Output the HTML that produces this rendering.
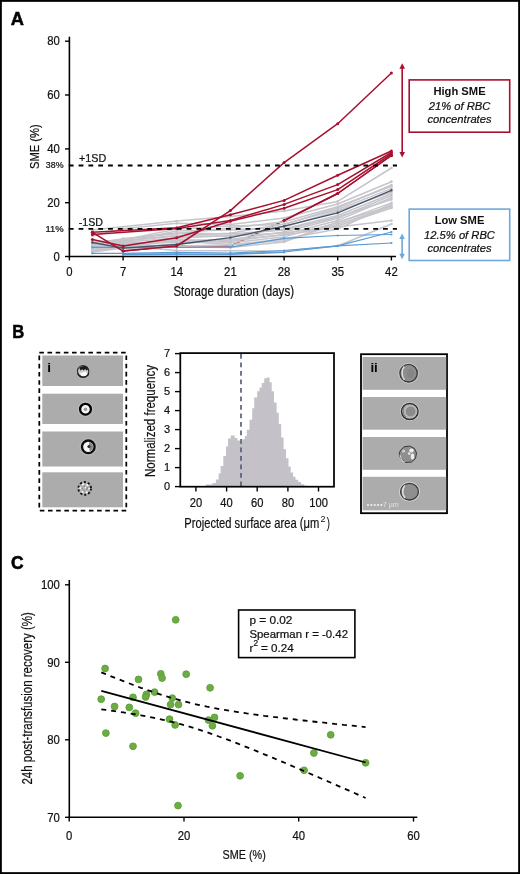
<!DOCTYPE html>
<html><head><meta charset="utf-8"><style>
html,body{margin:0;padding:0;background:#fff;}
body{width:520px;height:874px;overflow:hidden;font-family:"Liberation Sans", sans-serif;}
</style></head><body>
<svg width="520" height="874" viewBox="0 0 520 874" style="display:block;will-change:transform" font-family='"Liberation Sans", sans-serif'>
<rect x="0" y="0" width="520" height="874" fill="#fff"/>
<g opacity="0.999">
<text x="10.7" y="25.3" font-size="18.3" text-anchor="start" font-weight="bold" font-style="normal" fill="#000" stroke="#000" stroke-width="0.5">A</text>
<text x="12.2" y="337.8" font-size="18.3" text-anchor="start" font-weight="bold" font-style="normal" fill="#000" textLength="12.0" lengthAdjust="spacingAndGlyphs" stroke="#000" stroke-width="0.5">B</text>
<text x="11.0" y="569.1" font-size="18.3" text-anchor="start" font-weight="bold" font-style="normal" fill="#000" textLength="12.6" lengthAdjust="spacingAndGlyphs" stroke="#000" stroke-width="0.6">C</text>
<polyline points="123.1,251.1 176.7,246.0 230.4,246.0 284.1,220.5 337.7,193.5 391.4,155.5" fill="none" stroke="#a8102f" stroke-width="1.5" stroke-linejoin="round" opacity="1.0"/><circle cx="123.1" cy="251.1" r="1.5" fill="#a8102f" opacity="1.0"/><circle cx="176.7" cy="246.0" r="1.5" fill="#a8102f" opacity="1.0"/><circle cx="230.4" cy="246.0" r="1.5" fill="#a8102f" opacity="1.0"/><circle cx="284.1" cy="220.5" r="1.5" fill="#a8102f" opacity="1.0"/><circle cx="337.7" cy="193.5" r="1.5" fill="#a8102f" opacity="1.0"/><circle cx="391.4" cy="155.5" r="1.5" fill="#a8102f" opacity="1.0"/>
<polyline points="92.4,230.0 176.7,221.0 230.4,216.4 284.1,211.1 337.7,201.4 391.4,168.0" fill="none" stroke="#c6c5cb" stroke-width="1.5" stroke-linejoin="round" opacity="1.0"/><circle cx="92.4" cy="230.0" r="1.35" fill="#c6c5cb" opacity="1.0"/><circle cx="176.7" cy="221.0" r="1.35" fill="#c6c5cb" opacity="1.0"/><circle cx="230.4" cy="216.4" r="1.35" fill="#c6c5cb" opacity="1.0"/><circle cx="284.1" cy="211.1" r="1.35" fill="#c6c5cb" opacity="1.0"/><circle cx="337.7" cy="201.4" r="1.35" fill="#c6c5cb" opacity="1.0"/><circle cx="391.4" cy="168.0" r="1.35" fill="#c6c5cb" opacity="1.0"/>
<polyline points="92.4,236.0 123.1,228.7 176.7,223.3 230.4,224.4 284.1,218.0 337.7,204.0 391.4,181.7" fill="none" stroke="#c6c5cb" stroke-width="1.5" stroke-linejoin="round" opacity="1.0"/><circle cx="92.4" cy="236.0" r="1.35" fill="#c6c5cb" opacity="1.0"/><circle cx="123.1" cy="228.7" r="1.35" fill="#c6c5cb" opacity="1.0"/><circle cx="176.7" cy="223.3" r="1.35" fill="#c6c5cb" opacity="1.0"/><circle cx="230.4" cy="224.4" r="1.35" fill="#c6c5cb" opacity="1.0"/><circle cx="284.1" cy="218.0" r="1.35" fill="#c6c5cb" opacity="1.0"/><circle cx="337.7" cy="204.0" r="1.35" fill="#c6c5cb" opacity="1.0"/><circle cx="391.4" cy="181.7" r="1.35" fill="#c6c5cb" opacity="1.0"/>
<polyline points="92.4,245.0 123.1,238.7 176.7,233.7 230.4,228.0 284.1,221.8 337.7,206.8 391.4,186.3" fill="none" stroke="#c6c5cb" stroke-width="1.5" stroke-linejoin="round" opacity="1.0"/><circle cx="92.4" cy="245.0" r="1.35" fill="#c6c5cb" opacity="1.0"/><circle cx="123.1" cy="238.7" r="1.35" fill="#c6c5cb" opacity="1.0"/><circle cx="176.7" cy="233.7" r="1.35" fill="#c6c5cb" opacity="1.0"/><circle cx="230.4" cy="228.0" r="1.35" fill="#c6c5cb" opacity="1.0"/><circle cx="284.1" cy="221.8" r="1.35" fill="#c6c5cb" opacity="1.0"/><circle cx="337.7" cy="206.8" r="1.35" fill="#c6c5cb" opacity="1.0"/><circle cx="391.4" cy="186.3" r="1.35" fill="#c6c5cb" opacity="1.0"/>
<polyline points="92.4,246.0 123.1,240.6 176.7,235.6 230.4,233.2 284.1,224.0 337.7,209.6 391.4,188.6" fill="none" stroke="#c6c5cb" stroke-width="1.5" stroke-linejoin="round" opacity="1.0"/><circle cx="92.4" cy="246.0" r="1.35" fill="#c6c5cb" opacity="1.0"/><circle cx="123.1" cy="240.6" r="1.35" fill="#c6c5cb" opacity="1.0"/><circle cx="176.7" cy="235.6" r="1.35" fill="#c6c5cb" opacity="1.0"/><circle cx="230.4" cy="233.2" r="1.35" fill="#c6c5cb" opacity="1.0"/><circle cx="284.1" cy="224.0" r="1.35" fill="#c6c5cb" opacity="1.0"/><circle cx="337.7" cy="209.6" r="1.35" fill="#c6c5cb" opacity="1.0"/><circle cx="391.4" cy="188.6" r="1.35" fill="#c6c5cb" opacity="1.0"/>
<polyline points="92.4,247.0 123.1,242.3 176.7,238.0 230.4,235.6 284.1,229.0 337.7,215.5 391.4,193.8" fill="none" stroke="#c6c5cb" stroke-width="1.5" stroke-linejoin="round" opacity="1.0"/><circle cx="92.4" cy="247.0" r="1.35" fill="#c6c5cb" opacity="1.0"/><circle cx="123.1" cy="242.3" r="1.35" fill="#c6c5cb" opacity="1.0"/><circle cx="176.7" cy="238.0" r="1.35" fill="#c6c5cb" opacity="1.0"/><circle cx="230.4" cy="235.6" r="1.35" fill="#c6c5cb" opacity="1.0"/><circle cx="284.1" cy="229.0" r="1.35" fill="#c6c5cb" opacity="1.0"/><circle cx="337.7" cy="215.5" r="1.35" fill="#c6c5cb" opacity="1.0"/><circle cx="391.4" cy="193.8" r="1.35" fill="#c6c5cb" opacity="1.0"/>
<polyline points="92.4,249.6 123.1,244.0 176.7,240.4 230.4,239.6 284.1,231.9 337.7,218.3 391.4,195.5" fill="none" stroke="#c6c5cb" stroke-width="1.5" stroke-linejoin="round" opacity="1.0"/><circle cx="92.4" cy="249.6" r="1.35" fill="#c6c5cb" opacity="1.0"/><circle cx="123.1" cy="244.0" r="1.35" fill="#c6c5cb" opacity="1.0"/><circle cx="176.7" cy="240.4" r="1.35" fill="#c6c5cb" opacity="1.0"/><circle cx="230.4" cy="239.6" r="1.35" fill="#c6c5cb" opacity="1.0"/><circle cx="284.1" cy="231.9" r="1.35" fill="#c6c5cb" opacity="1.0"/><circle cx="337.7" cy="218.3" r="1.35" fill="#c6c5cb" opacity="1.0"/><circle cx="391.4" cy="195.5" r="1.35" fill="#c6c5cb" opacity="1.0"/>
<polyline points="92.4,248.0 123.1,243.0 176.7,242.6 230.4,241.2 284.1,234.4 337.7,220.4 391.4,197.8" fill="none" stroke="#c6c5cb" stroke-width="1.5" stroke-linejoin="round" opacity="1.0"/><circle cx="92.4" cy="248.0" r="1.35" fill="#c6c5cb" opacity="1.0"/><circle cx="123.1" cy="243.0" r="1.35" fill="#c6c5cb" opacity="1.0"/><circle cx="176.7" cy="242.6" r="1.35" fill="#c6c5cb" opacity="1.0"/><circle cx="230.4" cy="241.2" r="1.35" fill="#c6c5cb" opacity="1.0"/><circle cx="284.1" cy="234.4" r="1.35" fill="#c6c5cb" opacity="1.0"/><circle cx="337.7" cy="220.4" r="1.35" fill="#c6c5cb" opacity="1.0"/><circle cx="391.4" cy="197.8" r="1.35" fill="#c6c5cb" opacity="1.0"/>
<polyline points="92.4,251.4 123.1,246.0 176.7,239.0 230.4,242.8 284.1,236.9 337.7,222.6 391.4,202.9" fill="none" stroke="#c6c5cb" stroke-width="1.5" stroke-linejoin="round" opacity="1.0"/><circle cx="92.4" cy="251.4" r="1.35" fill="#c6c5cb" opacity="1.0"/><circle cx="123.1" cy="246.0" r="1.35" fill="#c6c5cb" opacity="1.0"/><circle cx="176.7" cy="239.0" r="1.35" fill="#c6c5cb" opacity="1.0"/><circle cx="230.4" cy="242.8" r="1.35" fill="#c6c5cb" opacity="1.0"/><circle cx="284.1" cy="236.9" r="1.35" fill="#c6c5cb" opacity="1.0"/><circle cx="337.7" cy="222.6" r="1.35" fill="#c6c5cb" opacity="1.0"/><circle cx="391.4" cy="202.9" r="1.35" fill="#c6c5cb" opacity="1.0"/>
<polyline points="92.4,250.0 123.1,247.0 176.7,241.0 230.4,244.4 284.1,240.7 337.7,224.2 391.4,206.9" fill="none" stroke="#c6c5cb" stroke-width="1.5" stroke-linejoin="round" opacity="1.0"/><circle cx="92.4" cy="250.0" r="1.35" fill="#c6c5cb" opacity="1.0"/><circle cx="123.1" cy="247.0" r="1.35" fill="#c6c5cb" opacity="1.0"/><circle cx="176.7" cy="241.0" r="1.35" fill="#c6c5cb" opacity="1.0"/><circle cx="230.4" cy="244.4" r="1.35" fill="#c6c5cb" opacity="1.0"/><circle cx="284.1" cy="240.7" r="1.35" fill="#c6c5cb" opacity="1.0"/><circle cx="337.7" cy="224.2" r="1.35" fill="#c6c5cb" opacity="1.0"/><circle cx="391.4" cy="206.9" r="1.35" fill="#c6c5cb" opacity="1.0"/>
<polyline points="92.4,244.0 123.1,241.0 176.7,236.0 230.4,236.0 284.1,233.0 337.7,226.0 391.4,208.0" fill="none" stroke="#c6c5cb" stroke-width="1.5" stroke-linejoin="round" opacity="1.0"/><circle cx="92.4" cy="244.0" r="1.35" fill="#c6c5cb" opacity="1.0"/><circle cx="123.1" cy="241.0" r="1.35" fill="#c6c5cb" opacity="1.0"/><circle cx="176.7" cy="236.0" r="1.35" fill="#c6c5cb" opacity="1.0"/><circle cx="230.4" cy="236.0" r="1.35" fill="#c6c5cb" opacity="1.0"/><circle cx="284.1" cy="233.0" r="1.35" fill="#c6c5cb" opacity="1.0"/><circle cx="337.7" cy="226.0" r="1.35" fill="#c6c5cb" opacity="1.0"/><circle cx="391.4" cy="208.0" r="1.35" fill="#c6c5cb" opacity="1.0"/>
<polyline points="92.4,252.0 123.1,248.0 176.7,244.0 230.4,240.0 284.1,235.0 337.7,227.0 391.4,220.6" fill="none" stroke="#c6c5cb" stroke-width="1.5" stroke-linejoin="round" opacity="1.0"/><circle cx="92.4" cy="252.0" r="1.35" fill="#c6c5cb" opacity="1.0"/><circle cx="123.1" cy="248.0" r="1.35" fill="#c6c5cb" opacity="1.0"/><circle cx="176.7" cy="244.0" r="1.35" fill="#c6c5cb" opacity="1.0"/><circle cx="230.4" cy="240.0" r="1.35" fill="#c6c5cb" opacity="1.0"/><circle cx="284.1" cy="235.0" r="1.35" fill="#c6c5cb" opacity="1.0"/><circle cx="337.7" cy="227.0" r="1.35" fill="#c6c5cb" opacity="1.0"/><circle cx="391.4" cy="220.6" r="1.35" fill="#c6c5cb" opacity="1.0"/>
<polyline points="92.4,250.0 123.1,246.0 176.7,250.4 230.4,250.8 284.1,251.0 337.7,246.0 391.4,224.0" fill="none" stroke="#c6c5cb" stroke-width="1.5" stroke-linejoin="round" opacity="1.0"/><circle cx="92.4" cy="250.0" r="1.35" fill="#c6c5cb" opacity="1.0"/><circle cx="123.1" cy="246.0" r="1.35" fill="#c6c5cb" opacity="1.0"/><circle cx="176.7" cy="250.4" r="1.35" fill="#c6c5cb" opacity="1.0"/><circle cx="230.4" cy="250.8" r="1.35" fill="#c6c5cb" opacity="1.0"/><circle cx="284.1" cy="251.0" r="1.35" fill="#c6c5cb" opacity="1.0"/><circle cx="337.7" cy="246.0" r="1.35" fill="#c6c5cb" opacity="1.0"/><circle cx="391.4" cy="224.0" r="1.35" fill="#c6c5cb" opacity="1.0"/>
<polyline points="92.4,248.0 123.1,242.0 176.7,231.0 230.4,230.0 284.1,227.0 337.7,211.0 391.4,192.0" fill="none" stroke="#c6c5cb" stroke-width="1.5" stroke-linejoin="round" opacity="1.0"/><circle cx="92.4" cy="248.0" r="1.35" fill="#c6c5cb" opacity="1.0"/><circle cx="123.1" cy="242.0" r="1.35" fill="#c6c5cb" opacity="1.0"/><circle cx="176.7" cy="231.0" r="1.35" fill="#c6c5cb" opacity="1.0"/><circle cx="230.4" cy="230.0" r="1.35" fill="#c6c5cb" opacity="1.0"/><circle cx="284.1" cy="227.0" r="1.35" fill="#c6c5cb" opacity="1.0"/><circle cx="337.7" cy="211.0" r="1.35" fill="#c6c5cb" opacity="1.0"/><circle cx="391.4" cy="192.0" r="1.35" fill="#c6c5cb" opacity="1.0"/>
<polyline points="92.4,242.0 123.1,240.0 176.7,229.0 230.4,226.0 284.1,224.5 337.7,208.0 391.4,185.0" fill="none" stroke="#c6c5cb" stroke-width="1.5" stroke-linejoin="round" opacity="1.0"/><circle cx="92.4" cy="242.0" r="1.35" fill="#c6c5cb" opacity="1.0"/><circle cx="123.1" cy="240.0" r="1.35" fill="#c6c5cb" opacity="1.0"/><circle cx="176.7" cy="229.0" r="1.35" fill="#c6c5cb" opacity="1.0"/><circle cx="230.4" cy="226.0" r="1.35" fill="#c6c5cb" opacity="1.0"/><circle cx="284.1" cy="224.5" r="1.35" fill="#c6c5cb" opacity="1.0"/><circle cx="337.7" cy="208.0" r="1.35" fill="#c6c5cb" opacity="1.0"/><circle cx="391.4" cy="185.0" r="1.35" fill="#c6c5cb" opacity="1.0"/>
<polyline points="123.1,245.0 176.7,246.0 230.4,245.0 284.1,239.0 337.7,229.0 391.4,204.0" fill="none" stroke="#c6c5cb" stroke-width="1.5" stroke-linejoin="round" opacity="1.0"/><circle cx="123.1" cy="245.0" r="1.35" fill="#c6c5cb" opacity="1.0"/><circle cx="176.7" cy="246.0" r="1.35" fill="#c6c5cb" opacity="1.0"/><circle cx="230.4" cy="245.0" r="1.35" fill="#c6c5cb" opacity="1.0"/><circle cx="284.1" cy="239.0" r="1.35" fill="#c6c5cb" opacity="1.0"/><circle cx="337.7" cy="229.0" r="1.35" fill="#c6c5cb" opacity="1.0"/><circle cx="391.4" cy="204.0" r="1.35" fill="#c6c5cb" opacity="1.0"/>
<polyline points="92.4,243.0 123.1,239.0 176.7,233.0 230.4,234.0 284.1,230.0 337.7,217.0 391.4,199.5" fill="none" stroke="#c6c5cb" stroke-width="1.5" stroke-linejoin="round" opacity="1.0"/><circle cx="92.4" cy="243.0" r="1.35" fill="#c6c5cb" opacity="1.0"/><circle cx="123.1" cy="239.0" r="1.35" fill="#c6c5cb" opacity="1.0"/><circle cx="176.7" cy="233.0" r="1.35" fill="#c6c5cb" opacity="1.0"/><circle cx="230.4" cy="234.0" r="1.35" fill="#c6c5cb" opacity="1.0"/><circle cx="284.1" cy="230.0" r="1.35" fill="#c6c5cb" opacity="1.0"/><circle cx="337.7" cy="217.0" r="1.35" fill="#c6c5cb" opacity="1.0"/><circle cx="391.4" cy="199.5" r="1.35" fill="#c6c5cb" opacity="1.0"/>
<polyline points="123.1,249.0 176.7,247.0 230.4,247.5 284.1,242.0 337.7,222.0 391.4,206.0" fill="none" stroke="#c6c5cb" stroke-width="1.5" stroke-linejoin="round" opacity="1.0"/><circle cx="123.1" cy="249.0" r="1.35" fill="#c6c5cb" opacity="1.0"/><circle cx="176.7" cy="247.0" r="1.35" fill="#c6c5cb" opacity="1.0"/><circle cx="230.4" cy="247.5" r="1.35" fill="#c6c5cb" opacity="1.0"/><circle cx="284.1" cy="242.0" r="1.35" fill="#c6c5cb" opacity="1.0"/><circle cx="337.7" cy="222.0" r="1.35" fill="#c6c5cb" opacity="1.0"/><circle cx="391.4" cy="206.0" r="1.35" fill="#c6c5cb" opacity="1.0"/>
<polyline points="92.4,247.3 123.1,247.3 176.7,247.5 230.4,247.2 284.1,238.3 337.7,235.5 391.4,234.5" fill="none" stroke="#5b9bd5" stroke-width="1.2" stroke-linejoin="round" opacity="1.0"/><circle cx="92.4" cy="247.3" r="1.1" fill="#5b9bd5" opacity="1.0"/><circle cx="123.1" cy="247.3" r="1.1" fill="#5b9bd5" opacity="1.0"/><circle cx="176.7" cy="247.5" r="1.1" fill="#5b9bd5" opacity="1.0"/><circle cx="230.4" cy="247.2" r="1.1" fill="#5b9bd5" opacity="1.0"/><circle cx="284.1" cy="238.3" r="1.1" fill="#5b9bd5" opacity="1.0"/><circle cx="337.7" cy="235.5" r="1.1" fill="#5b9bd5" opacity="1.0"/><circle cx="391.4" cy="234.5" r="1.1" fill="#5b9bd5" opacity="1.0"/>
<polyline points="92.4,253.4 123.1,253.4 176.7,252.3 230.4,253.2 284.1,250.5 337.7,245.8 391.4,243.0" fill="none" stroke="#5b9bd5" stroke-width="1.2" stroke-linejoin="round" opacity="1.0"/><circle cx="92.4" cy="253.4" r="1.1" fill="#5b9bd5" opacity="1.0"/><circle cx="123.1" cy="253.4" r="1.1" fill="#5b9bd5" opacity="1.0"/><circle cx="176.7" cy="252.3" r="1.1" fill="#5b9bd5" opacity="1.0"/><circle cx="230.4" cy="253.2" r="1.1" fill="#5b9bd5" opacity="1.0"/><circle cx="284.1" cy="250.5" r="1.1" fill="#5b9bd5" opacity="1.0"/><circle cx="337.7" cy="245.8" r="1.1" fill="#5b9bd5" opacity="1.0"/><circle cx="391.4" cy="243.0" r="1.1" fill="#5b9bd5" opacity="1.0"/>
<polyline points="123.1,254.7 176.7,254.5 230.4,254.0 284.1,252.0 337.7,245.8 391.4,232.0" fill="none" stroke="#5b9bd5" stroke-width="1.2" stroke-linejoin="round" opacity="1.0"/><circle cx="123.1" cy="254.7" r="1.1" fill="#5b9bd5" opacity="1.0"/><circle cx="176.7" cy="254.5" r="1.1" fill="#5b9bd5" opacity="1.0"/><circle cx="230.4" cy="254.0" r="1.1" fill="#5b9bd5" opacity="1.0"/><circle cx="284.1" cy="252.0" r="1.1" fill="#5b9bd5" opacity="1.0"/><circle cx="337.7" cy="245.8" r="1.1" fill="#5b9bd5" opacity="1.0"/><circle cx="391.4" cy="232.0" r="1.1" fill="#5b9bd5" opacity="1.0"/>
<polyline points="123.1,254.2 176.7,253.8 230.4,254.5 284.1,252.5" fill="none" stroke="#5b9bd5" stroke-width="1.2" stroke-linejoin="round" opacity="1.0"/><circle cx="123.1" cy="254.2" r="1.1" fill="#5b9bd5" opacity="1.0"/><circle cx="176.7" cy="253.8" r="1.1" fill="#5b9bd5" opacity="1.0"/><circle cx="230.4" cy="254.5" r="1.1" fill="#5b9bd5" opacity="1.0"/><circle cx="284.1" cy="252.5" r="1.1" fill="#5b9bd5" opacity="1.0"/>
<polyline points="92.4,242.5 123.1,248.2 176.7,244.5 230.4,237.6 284.1,226.2 337.7,212.8 391.4,190.3" fill="none" stroke="#44546a" stroke-width="1.3" stroke-linejoin="round" opacity="1.0"/><circle cx="92.4" cy="242.5" r="1.2" fill="#44546a" opacity="1.0"/><circle cx="123.1" cy="248.2" r="1.2" fill="#44546a" opacity="1.0"/><circle cx="176.7" cy="244.5" r="1.2" fill="#44546a" opacity="1.0"/><circle cx="230.4" cy="237.6" r="1.2" fill="#44546a" opacity="1.0"/><circle cx="284.1" cy="226.2" r="1.2" fill="#44546a" opacity="1.0"/><circle cx="337.7" cy="212.8" r="1.2" fill="#44546a" opacity="1.0"/><circle cx="391.4" cy="190.3" r="1.2" fill="#44546a" opacity="1.0"/>
<polyline points="92.4,232.3 123.1,251.1 176.7,246.0 230.4,210.6 284.1,162.6 337.7,123.7 391.4,73.0" fill="none" stroke="#a8102f" stroke-width="1.5" stroke-linejoin="round" opacity="1.0"/><circle cx="92.4" cy="232.3" r="1.5" fill="#a8102f" opacity="1.0"/><circle cx="123.1" cy="251.1" r="1.5" fill="#a8102f" opacity="1.0"/><circle cx="176.7" cy="246.0" r="1.5" fill="#a8102f" opacity="1.0"/><circle cx="230.4" cy="210.6" r="1.5" fill="#a8102f" opacity="1.0"/><circle cx="284.1" cy="162.6" r="1.5" fill="#a8102f" opacity="1.0"/><circle cx="337.7" cy="123.7" r="1.5" fill="#a8102f" opacity="1.0"/><circle cx="391.4" cy="73.0" r="1.5" fill="#a8102f" opacity="1.0"/>
<polyline points="284.1,220.5 337.7,193.5 391.4,155.5" fill="none" stroke="#a8102f" stroke-width="1.5" stroke-linejoin="round" opacity="1.0"/><circle cx="284.1" cy="220.5" r="1.5" fill="#a8102f" opacity="1.0"/><circle cx="337.7" cy="193.5" r="1.5" fill="#a8102f" opacity="1.0"/><circle cx="391.4" cy="155.5" r="1.5" fill="#a8102f" opacity="1.0"/>
<polyline points="92.4,239.6 123.1,245.9 176.7,237.8 230.4,221.2 284.1,208.2 337.7,189.6 391.4,154.0" fill="none" stroke="#a8102f" stroke-width="1.5" stroke-linejoin="round" opacity="1.0"/><circle cx="92.4" cy="239.6" r="1.5" fill="#a8102f" opacity="1.0"/><circle cx="123.1" cy="245.9" r="1.5" fill="#a8102f" opacity="1.0"/><circle cx="176.7" cy="237.8" r="1.5" fill="#a8102f" opacity="1.0"/><circle cx="230.4" cy="221.2" r="1.5" fill="#a8102f" opacity="1.0"/><circle cx="284.1" cy="208.2" r="1.5" fill="#a8102f" opacity="1.0"/><circle cx="337.7" cy="189.6" r="1.5" fill="#a8102f" opacity="1.0"/><circle cx="391.4" cy="154.0" r="1.5" fill="#a8102f" opacity="1.0"/>
<polyline points="92.4,232.3 176.7,227.8 230.4,214.7 284.1,200.4 337.7,175.3 391.4,151.0" fill="none" stroke="#a8102f" stroke-width="1.5" stroke-linejoin="round" opacity="1.0"/><circle cx="92.4" cy="232.3" r="1.5" fill="#a8102f" opacity="1.0"/><circle cx="176.7" cy="227.8" r="1.5" fill="#a8102f" opacity="1.0"/><circle cx="230.4" cy="214.7" r="1.5" fill="#a8102f" opacity="1.0"/><circle cx="284.1" cy="200.4" r="1.5" fill="#a8102f" opacity="1.0"/><circle cx="337.7" cy="175.3" r="1.5" fill="#a8102f" opacity="1.0"/><circle cx="391.4" cy="151.0" r="1.5" fill="#a8102f" opacity="1.0"/>
<polyline points="92.4,234.6 176.7,228.5 230.4,220.5 284.1,204.4 337.7,184.6 391.4,152.5" fill="none" stroke="#a8102f" stroke-width="1.5" stroke-linejoin="round" opacity="1.0"/><circle cx="92.4" cy="234.6" r="1.5" fill="#a8102f" opacity="1.0"/><circle cx="176.7" cy="228.5" r="1.5" fill="#a8102f" opacity="1.0"/><circle cx="230.4" cy="220.5" r="1.5" fill="#a8102f" opacity="1.0"/><circle cx="284.1" cy="204.4" r="1.5" fill="#a8102f" opacity="1.0"/><circle cx="337.7" cy="184.6" r="1.5" fill="#a8102f" opacity="1.0"/><circle cx="391.4" cy="152.5" r="1.5" fill="#a8102f" opacity="1.0"/>
<line x1="68.8" y1="165.5" x2="397" y2="165.5" stroke="#000" stroke-width="1.9" stroke-dasharray="4.8 5.02"/>
<line x1="68.8" y1="228.9" x2="397" y2="228.9" stroke="#000" stroke-width="1.9" stroke-dasharray="4.8 5.02"/>
<line x1="69.4" y1="36.7" x2="69.4" y2="257.3" stroke="#000" stroke-width="1.6"/>
<line x1="68.6" y1="256.5" x2="396" y2="256.5" stroke="#000" stroke-width="1.6"/>
<line x1="65" y1="256.5" x2="69.4" y2="256.5" stroke="#000" stroke-width="1.4"/>
<text x="59.8" y="260.7" font-size="12" text-anchor="end" font-weight="normal" font-style="normal" fill="#111" stroke="#111" stroke-width="0.22" textLength="6.3" lengthAdjust="spacingAndGlyphs" >0</text>
<line x1="65" y1="202.7" x2="69.4" y2="202.7" stroke="#000" stroke-width="1.4"/>
<text x="59.8" y="206.88" font-size="12" text-anchor="end" font-weight="normal" font-style="normal" fill="#111" stroke="#111" stroke-width="0.22" textLength="12.6" lengthAdjust="spacingAndGlyphs" >20</text>
<line x1="65" y1="148.9" x2="69.4" y2="148.9" stroke="#000" stroke-width="1.4"/>
<text x="59.8" y="153.06" font-size="12" text-anchor="end" font-weight="normal" font-style="normal" fill="#111" stroke="#111" stroke-width="0.22" textLength="12.6" lengthAdjust="spacingAndGlyphs" >40</text>
<line x1="65" y1="95.0" x2="69.4" y2="95.0" stroke="#000" stroke-width="1.4"/>
<text x="59.8" y="99.24000000000002" font-size="12" text-anchor="end" font-weight="normal" font-style="normal" fill="#111" stroke="#111" stroke-width="0.22" textLength="12.6" lengthAdjust="spacingAndGlyphs" >60</text>
<line x1="65" y1="41.2" x2="69.4" y2="41.2" stroke="#000" stroke-width="1.4"/>
<text x="59.8" y="45.42000000000003" font-size="12" text-anchor="end" font-weight="normal" font-style="normal" fill="#111" stroke="#111" stroke-width="0.22" textLength="12.6" lengthAdjust="spacingAndGlyphs" >80</text>
<line x1="69.4" y1="256.5" x2="69.4" y2="260.5" stroke="#000" stroke-width="1.4"/>
<text x="69.4" y="276.2" font-size="12" text-anchor="middle" font-weight="normal" font-style="normal" fill="#111" stroke="#111" stroke-width="0.22" textLength="6.3" lengthAdjust="spacingAndGlyphs" >0</text>
<line x1="123.1" y1="256.5" x2="123.1" y2="260.5" stroke="#000" stroke-width="1.4"/>
<text x="123.069" y="276.2" font-size="12" text-anchor="middle" font-weight="normal" font-style="normal" fill="#111" stroke="#111" stroke-width="0.22" textLength="6.3" lengthAdjust="spacingAndGlyphs" >7</text>
<line x1="176.7" y1="256.5" x2="176.7" y2="260.5" stroke="#000" stroke-width="1.4"/>
<text x="176.738" y="276.2" font-size="12" text-anchor="middle" font-weight="normal" font-style="normal" fill="#111" stroke="#111" stroke-width="0.22" textLength="12.6" lengthAdjust="spacingAndGlyphs" >14</text>
<line x1="230.4" y1="256.5" x2="230.4" y2="260.5" stroke="#000" stroke-width="1.4"/>
<text x="230.407" y="276.2" font-size="12" text-anchor="middle" font-weight="normal" font-style="normal" fill="#111" stroke="#111" stroke-width="0.22" textLength="12.6" lengthAdjust="spacingAndGlyphs" >21</text>
<line x1="284.1" y1="256.5" x2="284.1" y2="260.5" stroke="#000" stroke-width="1.4"/>
<text x="284.076" y="276.2" font-size="12" text-anchor="middle" font-weight="normal" font-style="normal" fill="#111" stroke="#111" stroke-width="0.22" textLength="12.6" lengthAdjust="spacingAndGlyphs" >28</text>
<line x1="337.7" y1="256.5" x2="337.7" y2="260.5" stroke="#000" stroke-width="1.4"/>
<text x="337.745" y="276.2" font-size="12" text-anchor="middle" font-weight="normal" font-style="normal" fill="#111" stroke="#111" stroke-width="0.22" textLength="12.6" lengthAdjust="spacingAndGlyphs" >35</text>
<line x1="391.4" y1="256.5" x2="391.4" y2="260.5" stroke="#000" stroke-width="1.4"/>
<text x="391.414" y="276.2" font-size="12" text-anchor="middle" font-weight="normal" font-style="normal" fill="#111" stroke="#111" stroke-width="0.22" textLength="12.6" lengthAdjust="spacingAndGlyphs" >42</text>
<text x="63.5" y="168.4" font-size="8.9" text-anchor="end" font-weight="normal" font-style="normal" fill="#111" stroke="#111" stroke-width="0.22" textLength="17.7" lengthAdjust="spacingAndGlyphs" >38%</text>
<text x="63.6" y="232.2" font-size="8.9" text-anchor="end" font-weight="normal" font-style="normal" fill="#111" stroke="#111" stroke-width="0.22" textLength="18.2" lengthAdjust="spacingAndGlyphs" >11%</text>
<text x="79" y="161.9" font-size="11.5" text-anchor="start" font-weight="normal" font-style="normal" fill="#111" stroke="#111" stroke-width="0.22" textLength="27.3" lengthAdjust="spacingAndGlyphs" >+1SD</text>
<text x="78.8" y="225.6" font-size="11.5" text-anchor="start" font-weight="normal" font-style="normal" fill="#111" stroke="#111" stroke-width="0.22" textLength="24.2" lengthAdjust="spacingAndGlyphs" >-1SD</text>
<text transform="translate(39,169) rotate(-90)" font-size="11.9" fill="#111" stroke="#111" stroke-width="0.2" textLength="44.7" lengthAdjust="spacingAndGlyphs">SME (%)</text>
<text x="173.4" y="295.9" font-size="14.4" text-anchor="start" font-weight="normal" font-style="normal" fill="#111" stroke="#111" stroke-width="0.22" textLength="120.6" lengthAdjust="spacingAndGlyphs" >Storage duration (days)</text>
<line x1="402.2" y1="67.2" x2="402.2" y2="153.5" stroke="#a8102f" stroke-width="1.6"/><path d="M402.2,63.2 L399.4,68.7 L405.0,68.7 Z" fill="#a8102f"/><path d="M402.2,157.5 L399.4,152.0 L405.0,152.0 Z" fill="#a8102f"/>
<line x1="402.1" y1="237.6" x2="402.1" y2="255.3" stroke="#6ea8dc" stroke-width="1.6"/><path d="M402.1,233.6 L399.3,239.1 L404.90000000000003,239.1 Z" fill="#6ea8dc"/><path d="M402.1,259.3 L399.3,253.8 L404.90000000000003,253.8 Z" fill="#6ea8dc"/>
<rect x="409.2" y="79.9" width="100.5" height="52.3" fill="#fff" stroke="#a8102f" stroke-width="1.6"/>
<text x="459.5" y="95.4" font-size="11.2" text-anchor="middle" font-weight="bold" font-style="normal" fill="#111" >High SME</text>
<text x="459.5" y="109.6" font-size="11.2" text-anchor="middle" font-weight="normal" font-style="italic" fill="#111" stroke="#111" stroke-width="0.22" >21% of RBC</text>
<text x="459.5" y="122.5" font-size="11.2" text-anchor="middle" font-weight="normal" font-style="italic" fill="#111" stroke="#111" stroke-width="0.22" >concentrates</text>
<rect x="409.2" y="209.1" width="100.5" height="51.4" fill="#fff" stroke="#6ea8dc" stroke-width="1.6"/>
<text x="459.5" y="224.2" font-size="11.2" text-anchor="middle" font-weight="bold" font-style="normal" fill="#111" >Low SME</text>
<text x="459.5" y="238.5" font-size="11.2" text-anchor="middle" font-weight="normal" font-style="italic" fill="#111" stroke="#111" stroke-width="0.22" >12.5% of RBC</text>
<text x="459.5" y="251.5" font-size="11.2" text-anchor="middle" font-weight="normal" font-style="italic" fill="#111" stroke="#111" stroke-width="0.22" >concentrates</text>
<line x1="39.3" y1="352.6" x2="126.5" y2="352.6" stroke="#000" stroke-width="1.75" stroke-dasharray="4.6 3.58"/>
<line x1="126.3" y1="355.5" x2="126.3" y2="509" stroke="#000" stroke-width="1.75" stroke-dasharray="4.6 3.58"/>
<line x1="39.3" y1="355.6" x2="39.3" y2="509" stroke="#000" stroke-width="1.75" stroke-dasharray="4.6 3.58"/>
<line x1="39.8" y1="510.7" x2="127" y2="510.7" stroke="#000" stroke-width="1.75" stroke-dasharray="4.6 3.58"/>
<rect x="42.3" y="355.5" width="80.7" height="30.5" fill="#acacac"/>
<rect x="42.3" y="393.7" width="80.7" height="30.30000000000001" fill="#acacac"/>
<rect x="42.3" y="431.5" width="80.7" height="35.0" fill="#acacac"/>
<rect x="42.3" y="472.3" width="80.7" height="35.0" fill="#acacac"/>
<text x="47.2" y="372.3" font-size="13.5" text-anchor="start" font-weight="bold" font-style="normal" fill="#000" >i</text>
<defs><filter id="bl" x="-50%" y="-50%" width="200%" height="200%"><feGaussianBlur stdDeviation="0.45"/></filter><filter id="bl2" x="-50%" y="-50%" width="200%" height="200%"><feGaussianBlur stdDeviation="0.8"/></filter></defs>
<g filter="url(#bl)"><circle cx="83.1" cy="371.2" r="7" fill="#bcbcbc" opacity="0.7"/><circle cx="83.1" cy="371.2" r="5.7" fill="#c9c9c9" stroke="#2a2a2a" stroke-width="1.2"/><path d="M79.4,368.6 C80.5,366.6 82,366 84.2,366.1 C86.3,366.3 87.8,367.6 88.1,369.6 L86.5,370.4 L85.2,368.9 L83.7,370.6 L82.3,369.2 L80.6,370.4 Z" fill="#1a1a1a"/><path d="M79.8,373.2 L82.6,372.6 L84.2,371.4 L86.4,372.2 L87.6,374.2 L85.8,376.2 L81.8,376.4 Z" fill="#f9f9f9"/><path d="M77.8,373.5 C79,376.8 82,377.6 85,377 C87,376.5 88.3,375.2 88.8,373.5" fill="none" stroke="#1a1a1a" stroke-width="1.3"/></g>
<g filter="url(#bl)"><circle cx="85.5" cy="409.2" r="7.3" fill="none" stroke="#bdbdbd" stroke-width="1"/><circle cx="85.5" cy="409.2" r="5.4" fill="#f6f6f6" stroke="#050505" stroke-width="2.3"/><circle cx="85.5" cy="409.2" r="1.8" fill="#9a9a9a"/></g>
<g filter="url(#bl)"><circle cx="88.3" cy="446.8" r="8.3" fill="none" stroke="#bcbcbc" stroke-width="1"/><circle cx="88.3" cy="446.8" r="6.3" fill="#f6f6f6" stroke="#0d0d0d" stroke-width="2.3"/><path d="M88.89999999999999,446.8 L89.12,442.17 A4.7,4.7 0 0,1 89.91,451.22 Z" fill="#858585"/><circle cx="88.9" cy="446.4" r="1.5" fill="#2a2a2a"/></g>
<g filter="url(#bl)"><circle cx="84.7" cy="488.4" r="6.3" fill="#b4b4b4" stroke="#1a1a1a" stroke-width="2.0" stroke-dasharray="2.2 1.8"/><circle cx="84.7" cy="488.4" r="4.3" fill="none" stroke="#f4f4f4" stroke-width="1.9" stroke-dasharray="2.0 2.5" stroke-dashoffset="1"/><circle cx="84.7" cy="488.4" r="2.4" fill="none" stroke="#555" stroke-width="0.9" stroke-dasharray="1.3 1.7"/><circle cx="85.5" cy="487.6" r="1.0" fill="#e8e8e8"/></g>
<rect x="361" y="354.2" width="86" height="159" fill="#fff" stroke="#000" stroke-width="1.8"/>
<rect x="362.6" y="357" width="83.6" height="32.80000000000001" fill="#acacac"/>
<rect x="362.6" y="397" width="83.6" height="32.69999999999999" fill="#acacac"/>
<rect x="362.6" y="437" width="83.6" height="32.80000000000001" fill="#acacac"/>
<rect x="362.6" y="476.8" width="83.6" height="33.5" fill="#acacac"/>
<text x="370.4" y="372.2" font-size="13.5" text-anchor="start" font-weight="bold" font-style="normal" fill="#000" textLength="7.4" lengthAdjust="spacingAndGlyphs" >ii</text>
<g filter="url(#bl)"><ellipse cx="408.6" cy="373.2" rx="9.6" ry="9.7" fill="none" stroke="#d4d4d4" stroke-width="1.1"/><ellipse cx="408.6" cy="373.2" rx="8.7" ry="8.8" fill="#8e8e8e" stroke="#3d3d3d" stroke-width="1.4"/><path d="M404.2,366.5 C401.5,369.5 401.3,376.5 404.5,380" fill="none" stroke="#dedede" stroke-width="1.5"/><ellipse cx="410.5" cy="373.5" rx="3.5" ry="4.5" fill="#858585"/></g>
<g filter="url(#bl)"><ellipse cx="409.8" cy="411.5" rx="9.2" ry="9" fill="none" stroke="#d4d4d4" stroke-width="1.1"/><ellipse cx="409.8" cy="411.5" rx="8.3" ry="8" fill="#b8b8b8" stroke="#2e2e2e" stroke-width="1.4"/><circle cx="410.6" cy="411.5" r="4.9" fill="#8b8b8b"/><path d="M405,406 C402.5,409 402.8,414.5 406,417" fill="none" stroke="#777" stroke-width="1"/></g>
<g filter="url(#bl)"><path d="M400,451 L404,446.8 L409.5,446 L414.5,448.5 L416.5,453 L415.5,458.5 L411.5,462 L405.5,462.5 L401,459 L399.2,454.5 Z" fill="#8f8f8f" stroke="#3a3a3a" stroke-width="1"/><path d="M400,455 L401.5,460 L405,462.3" fill="none" stroke="#dadada" stroke-width="1"/><circle cx="403.5" cy="451" r="1.6" fill="#d0d0d0"/><ellipse cx="411.5" cy="450.5" rx="2.2" ry="2" fill="#f0f0f0"/><ellipse cx="412.5" cy="456.5" rx="1.8" ry="3" fill="#ececec"/><circle cx="409.2" cy="453.6" r="1.3" fill="#e6e6e6"/></g>
<g filter="url(#bl)"><ellipse cx="409.5" cy="491.7" rx="10" ry="9.3" fill="none" stroke="#d4d4d4" stroke-width="1.1"/><ellipse cx="409.5" cy="491.7" rx="8.9" ry="8.3" fill="#8f8f8f" stroke="#3b3b3b" stroke-width="1.3"/><path d="M404.8,485.5 C401.8,488.5 402,495 405.2,498" fill="none" stroke="#e4e4e4" stroke-width="1.5"/></g>
<g fill="#f2f2f2"><rect x="367.10" y="504.1" width="1.8" height="1.8"/><rect x="370.45" y="504.1" width="1.8" height="1.8"/><rect x="373.80" y="504.1" width="1.8" height="1.8"/><rect x="377.15" y="504.1" width="1.8" height="1.8"/><rect x="380.50" y="504.1" width="1.8" height="1.8"/></g>
<text x="382.8" y="506.5" font-size="6.3" text-anchor="start" font-weight="normal" font-style="normal" fill="#e0e0e0" textLength="16" lengthAdjust="spacingAndGlyphs" >7 &#181;m</text>
<path d="M204.4,486.6 L204.4,486 L205.8,486 L205.8,484.5 L212.5,484.5 L212.5,483 L215.9,483 L215.9,479.6 L218.6,479.6 L218.6,473.5 L220.6,473.5 L220.6,466 L223.3,466 L223.3,456 L226,456 L226,446.6 L228,446.6 L228,438.5 L230.7,438.5 L230.7,435.5 L234.7,435.5 L234.7,437.9 L237.4,437.9 L237.4,440.6 L240.1,440.6 L240.1,441.9 L242.1,441.9 L242.1,439.2 L244.8,439.2 L244.8,435.9 L246.8,435.9 L246.8,429.8 L249.5,429.8 L249.5,419.7 L252.2,419.7 L252.2,408.3 L254.2,408.3 L254.2,397.5 L257.2,397.5 L257.2,391.3 L259.5,391.3 L259.5,387.5 L261.7,387.5 L261.7,383 L264.2,383 L264.2,378.2 L266.9,378.2 L266.9,377.6 L269.6,377.6 L269.6,382.3 L271.7,382.3 L271.7,391.25 L274,391.25 L274,402.4 L276.6,402.4 L276.6,412.8 L278.8,412.8 L278.8,424 L281.2,424 L281.2,437.4 L283.6,437.4 L283.6,449.3 L286,449.3 L286,458.2 L288.5,458.2 L288.5,466.4 L290.7,466.4 L290.7,472.4 L293.1,472.4 L293.1,476.8 L295.5,476.8 L295.5,479.8 L298.2,479.8 L298.2,482 L301.1,482 L301.1,484.3 L304.1,484.3 L304.1,485.4 L307.1,485.4 L307.1,486.2 L311.5,486.2 L311.5,486.6 Z" fill="#c4c2c8"/>
<line x1="241" y1="354" x2="241" y2="486" stroke="#4f5870" stroke-width="1.6" stroke-dasharray="4.8 3.7"/>
<rect x="180.3" y="353.1" width="153.7" height="133.6" fill="none" stroke="#000" stroke-width="1.75"/>
<line x1="175" y1="486.6" x2="180.3" y2="486.6" stroke="#000" stroke-width="1.4"/>
<text x="170.2" y="489.90000000000003" font-size="11.8" text-anchor="end" font-weight="normal" font-style="normal" fill="#111" stroke="#111" stroke-width="0.22" textLength="6.1" lengthAdjust="spacingAndGlyphs" >0</text>
<line x1="175" y1="467.6" x2="180.3" y2="467.6" stroke="#000" stroke-width="1.4"/>
<text x="170.2" y="470.90000000000003" font-size="11.8" text-anchor="end" font-weight="normal" font-style="normal" fill="#111" stroke="#111" stroke-width="0.22" textLength="6.1" lengthAdjust="spacingAndGlyphs" >1</text>
<line x1="175" y1="448.6" x2="180.3" y2="448.6" stroke="#000" stroke-width="1.4"/>
<text x="170.2" y="451.90000000000003" font-size="11.8" text-anchor="end" font-weight="normal" font-style="normal" fill="#111" stroke="#111" stroke-width="0.22" textLength="6.1" lengthAdjust="spacingAndGlyphs" >2</text>
<line x1="175" y1="429.6" x2="180.3" y2="429.6" stroke="#000" stroke-width="1.4"/>
<text x="170.2" y="432.90000000000003" font-size="11.8" text-anchor="end" font-weight="normal" font-style="normal" fill="#111" stroke="#111" stroke-width="0.22" textLength="6.1" lengthAdjust="spacingAndGlyphs" >3</text>
<line x1="175" y1="410.6" x2="180.3" y2="410.6" stroke="#000" stroke-width="1.4"/>
<text x="170.2" y="413.90000000000003" font-size="11.8" text-anchor="end" font-weight="normal" font-style="normal" fill="#111" stroke="#111" stroke-width="0.22" textLength="6.1" lengthAdjust="spacingAndGlyphs" >4</text>
<line x1="175" y1="391.6" x2="180.3" y2="391.6" stroke="#000" stroke-width="1.4"/>
<text x="170.2" y="394.90000000000003" font-size="11.8" text-anchor="end" font-weight="normal" font-style="normal" fill="#111" stroke="#111" stroke-width="0.22" textLength="6.1" lengthAdjust="spacingAndGlyphs" >5</text>
<line x1="175" y1="372.6" x2="180.3" y2="372.6" stroke="#000" stroke-width="1.4"/>
<text x="170.2" y="375.90000000000003" font-size="11.8" text-anchor="end" font-weight="normal" font-style="normal" fill="#111" stroke="#111" stroke-width="0.22" textLength="6.1" lengthAdjust="spacingAndGlyphs" >6</text>
<line x1="175" y1="353.6" x2="180.3" y2="353.6" stroke="#000" stroke-width="1.4"/>
<text x="170.2" y="356.90000000000003" font-size="11.8" text-anchor="end" font-weight="normal" font-style="normal" fill="#111" stroke="#111" stroke-width="0.22" textLength="6.1" lengthAdjust="spacingAndGlyphs" >7</text>
<line x1="195.9" y1="486.6" x2="195.9" y2="491.5" stroke="#000" stroke-width="1.4"/>
<text x="195.91" y="506.8" font-size="12" text-anchor="middle" font-weight="normal" font-style="normal" fill="#111" stroke="#111" stroke-width="0.22" textLength="12.4" lengthAdjust="spacingAndGlyphs" >20</text>
<line x1="226.6" y1="486.6" x2="226.6" y2="491.5" stroke="#000" stroke-width="1.4"/>
<text x="226.57" y="506.8" font-size="12" text-anchor="middle" font-weight="normal" font-style="normal" fill="#111" stroke="#111" stroke-width="0.22" textLength="12.4" lengthAdjust="spacingAndGlyphs" >40</text>
<line x1="257.2" y1="486.6" x2="257.2" y2="491.5" stroke="#000" stroke-width="1.4"/>
<text x="257.23" y="506.8" font-size="12" text-anchor="middle" font-weight="normal" font-style="normal" fill="#111" stroke="#111" stroke-width="0.22" textLength="12.4" lengthAdjust="spacingAndGlyphs" >60</text>
<line x1="287.9" y1="486.6" x2="287.9" y2="491.5" stroke="#000" stroke-width="1.4"/>
<text x="287.89" y="506.8" font-size="12" text-anchor="middle" font-weight="normal" font-style="normal" fill="#111" stroke="#111" stroke-width="0.22" textLength="12.4" lengthAdjust="spacingAndGlyphs" >80</text>
<line x1="318.5" y1="486.6" x2="318.5" y2="491.5" stroke="#000" stroke-width="1.4"/>
<text x="318.54999999999995" y="506.8" font-size="12" text-anchor="middle" font-weight="normal" font-style="normal" fill="#111" stroke="#111" stroke-width="0.22" textLength="18.6" lengthAdjust="spacingAndGlyphs" >100</text>
<text transform="translate(154.8,477) rotate(-90)" font-size="14.3" fill="#111" stroke="#111" stroke-width="0.2" textLength="112" lengthAdjust="spacingAndGlyphs">Normalized frequency</text>
<text x="184.3" y="528" font-size="14.3" fill="#111" stroke="#111" stroke-width="0.2" textLength="135" lengthAdjust="spacingAndGlyphs">Projected surface area (&#956;m</text>
<text x="320.4" y="522.2" font-size="9.8" fill="#111" textLength="5" lengthAdjust="spacingAndGlyphs">2</text>
<text x="326.6" y="528" font-size="14.3" fill="#111" textLength="3.6" lengthAdjust="spacingAndGlyphs">)</text>
<circle cx="175.7" cy="619.8" r="3.4" fill="#6dab47" stroke="#5ba333" stroke-width="0.9"/>
<circle cx="105.1" cy="668.5" r="3.4" fill="#6dab47" stroke="#5ba333" stroke-width="0.9"/>
<circle cx="138.5" cy="679.4" r="3.4" fill="#6dab47" stroke="#5ba333" stroke-width="0.9"/>
<circle cx="160.8" cy="673.8" r="3.4" fill="#6dab47" stroke="#5ba333" stroke-width="0.9"/>
<circle cx="162.1" cy="678.1" r="3.4" fill="#6dab47" stroke="#5ba333" stroke-width="0.9"/>
<circle cx="186.2" cy="674.2" r="3.4" fill="#6dab47" stroke="#5ba333" stroke-width="0.9"/>
<circle cx="210.1" cy="687.8" r="3.4" fill="#6dab47" stroke="#5ba333" stroke-width="0.9"/>
<circle cx="101.2" cy="699.2" r="3.4" fill="#6dab47" stroke="#5ba333" stroke-width="0.9"/>
<circle cx="114.6" cy="706.5" r="3.4" fill="#6dab47" stroke="#5ba333" stroke-width="0.9"/>
<circle cx="129.3" cy="707.4" r="3.4" fill="#6dab47" stroke="#5ba333" stroke-width="0.9"/>
<circle cx="133" cy="697.3" r="3.4" fill="#6dab47" stroke="#5ba333" stroke-width="0.9"/>
<circle cx="135.6" cy="713.2" r="3.4" fill="#6dab47" stroke="#5ba333" stroke-width="0.9"/>
<circle cx="146.4" cy="694.4" r="3.4" fill="#6dab47" stroke="#5ba333" stroke-width="0.9"/>
<circle cx="145.6" cy="697" r="3.4" fill="#6dab47" stroke="#5ba333" stroke-width="0.9"/>
<circle cx="154.6" cy="692.1" r="3.4" fill="#6dab47" stroke="#5ba333" stroke-width="0.9"/>
<circle cx="172.3" cy="698.1" r="3.4" fill="#6dab47" stroke="#5ba333" stroke-width="0.9"/>
<circle cx="170.6" cy="704.6" r="3.4" fill="#6dab47" stroke="#5ba333" stroke-width="0.9"/>
<circle cx="178.5" cy="704.6" r="3.4" fill="#6dab47" stroke="#5ba333" stroke-width="0.9"/>
<circle cx="169.5" cy="719.2" r="3.4" fill="#6dab47" stroke="#5ba333" stroke-width="0.9"/>
<circle cx="175.1" cy="724.9" r="3.4" fill="#6dab47" stroke="#5ba333" stroke-width="0.9"/>
<circle cx="208.5" cy="720.1" r="3.4" fill="#6dab47" stroke="#5ba333" stroke-width="0.9"/>
<circle cx="214.5" cy="717.4" r="3.4" fill="#6dab47" stroke="#5ba333" stroke-width="0.9"/>
<circle cx="212.4" cy="725.8" r="3.4" fill="#6dab47" stroke="#5ba333" stroke-width="0.9"/>
<circle cx="105.9" cy="733.1" r="3.4" fill="#6dab47" stroke="#5ba333" stroke-width="0.9"/>
<circle cx="133" cy="746.3" r="3.4" fill="#6dab47" stroke="#5ba333" stroke-width="0.9"/>
<circle cx="240.1" cy="775.8" r="3.4" fill="#6dab47" stroke="#5ba333" stroke-width="0.9"/>
<circle cx="304.1" cy="770.3" r="3.4" fill="#6dab47" stroke="#5ba333" stroke-width="0.9"/>
<circle cx="313.9" cy="753" r="3.4" fill="#6dab47" stroke="#5ba333" stroke-width="0.9"/>
<circle cx="330.7" cy="734.8" r="3.4" fill="#6dab47" stroke="#5ba333" stroke-width="0.9"/>
<circle cx="365.6" cy="762.8" r="3.4" fill="#6dab47" stroke="#5ba333" stroke-width="0.9"/>
<circle cx="178" cy="805.6" r="3.4" fill="#6dab47" stroke="#5ba333" stroke-width="0.9"/>
<line x1="101.3" y1="690.8" x2="365.6" y2="762.5" stroke="#000" stroke-width="1.8"/>
<polyline points="101.3,672.3 105.7,674.1 110.1,675.9 114.5,677.7 118.9,679.4 123.3,681.1 127.7,682.8 132.1,684.5 136.5,686.1 140.9,687.8 145.3,689.3 149.8,690.9 154.2,692.4 158.6,693.9 163.0,695.3 167.4,696.6 171.8,698.0 176.2,699.2 180.6,700.4 185.0,701.6 189.4,702.7 193.8,703.8 198.2,704.8 202.6,705.7 207.0,706.7 211.4,707.5 215.8,708.4 220.2,709.2 224.6,709.9 229.0,710.7 233.4,711.4 237.9,712.1 242.3,712.7 246.7,713.4 251.1,714.0 255.5,714.6 259.9,715.2 264.3,715.8 268.7,716.3 273.1,716.9 277.5,717.4 281.9,718.0 286.3,718.5 290.7,719.0 295.1,719.5 299.5,720.0 303.9,720.5 308.3,721.0 312.7,721.5 317.1,722.0 321.6,722.4 326.0,722.9 330.4,723.4 334.8,723.9 339.2,724.3 343.6,724.8 348.0,725.2 352.4,725.7 356.8,726.2 361.2,726.6 365.6,727.1" fill="none" stroke="#000" stroke-width="1.8" stroke-dasharray="5 4.9"/>
<polyline points="101.3,709.3 105.7,709.9 110.1,710.5 114.5,711.1 118.9,711.8 123.3,712.4 127.7,713.1 132.1,713.8 136.5,714.6 140.9,715.3 145.3,716.2 149.8,717.0 154.2,717.9 158.6,718.8 163.0,719.8 167.4,720.8 171.8,721.9 176.2,723.0 180.6,724.2 185.0,725.4 189.4,726.7 193.8,728.0 198.2,729.4 202.6,730.8 207.0,732.3 211.4,733.8 215.8,735.4 220.2,737.0 224.6,738.6 229.0,740.2 233.4,741.9 237.9,743.6 242.3,745.4 246.7,747.1 251.1,748.9 255.5,750.7 259.9,752.5 264.3,754.3 268.7,756.1 273.1,757.9 277.5,759.8 281.9,761.6 286.3,763.5 290.7,765.4 295.1,767.3 299.5,769.1 303.9,771.0 308.3,772.9 312.7,774.8 317.1,776.7 321.6,778.7 326.0,780.6 330.4,782.5 334.8,784.4 339.2,786.3 343.6,788.3 348.0,790.2 352.4,792.1 356.8,794.1 361.2,796.0 365.6,798.0" fill="none" stroke="#000" stroke-width="1.8" stroke-dasharray="5 4.9"/>
<line x1="69.3" y1="580" x2="69.3" y2="818.1" stroke="#000" stroke-width="1.6"/>
<line x1="68.5" y1="817.3" x2="417.3" y2="817.3" stroke="#000" stroke-width="1.6"/>
<line x1="65" y1="817.3" x2="69.3" y2="817.3" stroke="#000" stroke-width="1.4"/>
<text x="59.8" y="821.5" font-size="12" text-anchor="end" font-weight="normal" font-style="normal" fill="#111" stroke="#111" stroke-width="0.22" textLength="12.6" lengthAdjust="spacingAndGlyphs" >70</text>
<line x1="65" y1="739.8" x2="69.3" y2="739.8" stroke="#000" stroke-width="1.4"/>
<text x="59.8" y="744.0" font-size="12" text-anchor="end" font-weight="normal" font-style="normal" fill="#111" stroke="#111" stroke-width="0.22" textLength="12.6" lengthAdjust="spacingAndGlyphs" >80</text>
<line x1="65" y1="662.3" x2="69.3" y2="662.3" stroke="#000" stroke-width="1.4"/>
<text x="59.8" y="666.5" font-size="12" text-anchor="end" font-weight="normal" font-style="normal" fill="#111" stroke="#111" stroke-width="0.22" textLength="12.6" lengthAdjust="spacingAndGlyphs" >90</text>
<line x1="65" y1="584.8" x2="69.3" y2="584.8" stroke="#000" stroke-width="1.4"/>
<text x="59.8" y="589.0" font-size="12" text-anchor="end" font-weight="normal" font-style="normal" fill="#111" stroke="#111" stroke-width="0.22" textLength="18.9" lengthAdjust="spacingAndGlyphs" >100</text>
<line x1="69.2" y1="817.3" x2="69.2" y2="821.6" stroke="#000" stroke-width="1.4"/>
<text x="69.2" y="839.8" font-size="12" text-anchor="middle" font-weight="normal" font-style="normal" fill="#111" stroke="#111" stroke-width="0.22" textLength="6.3" lengthAdjust="spacingAndGlyphs" >0</text>
<line x1="184.0" y1="817.3" x2="184.0" y2="821.6" stroke="#000" stroke-width="1.4"/>
<text x="183.96" y="839.8" font-size="12" text-anchor="middle" font-weight="normal" font-style="normal" fill="#111" stroke="#111" stroke-width="0.22" textLength="12.6" lengthAdjust="spacingAndGlyphs" >20</text>
<line x1="298.7" y1="817.3" x2="298.7" y2="821.6" stroke="#000" stroke-width="1.4"/>
<text x="298.72" y="839.8" font-size="12" text-anchor="middle" font-weight="normal" font-style="normal" fill="#111" stroke="#111" stroke-width="0.22" textLength="12.6" lengthAdjust="spacingAndGlyphs" >40</text>
<line x1="413.5" y1="817.3" x2="413.5" y2="821.6" stroke="#000" stroke-width="1.4"/>
<text x="413.48" y="839.8" font-size="12" text-anchor="middle" font-weight="normal" font-style="normal" fill="#111" stroke="#111" stroke-width="0.22" textLength="12.6" lengthAdjust="spacingAndGlyphs" >60</text>
<text transform="translate(31.7,784.6) rotate(-90)" font-size="14.5" fill="#111" stroke="#111" stroke-width="0.2" textLength="172.5" lengthAdjust="spacingAndGlyphs">24h post-transfusion recovery (%)</text>
<text x="222.6" y="858.6" font-size="13.5" text-anchor="start" font-weight="normal" font-style="normal" fill="#111" stroke="#111" stroke-width="0.22" textLength="43.2" lengthAdjust="spacingAndGlyphs" >SME (%)</text>
<rect x="238.6" y="610" width="116.3" height="47.6" fill="#fff" stroke="#000" stroke-width="1.6"/>
<text x="249.4" y="623.7" font-size="11.3" text-anchor="start" font-weight="normal" font-style="normal" fill="#111" stroke="#111" stroke-width="0.22" textLength="43" lengthAdjust="spacingAndGlyphs" >p = 0.02</text>
<text x="249.4" y="637.7" font-size="11.3" text-anchor="start" font-weight="normal" font-style="normal" fill="#111" stroke="#111" stroke-width="0.22" textLength="98.6" lengthAdjust="spacingAndGlyphs" >Spearman r = -0.42</text>
<text x="249.4" y="651.7" font-size="11.3" text-anchor="start" font-weight="normal" font-style="normal" fill="#111" stroke="#111" stroke-width="0.22" >r</text>
<text x="253.5" y="645.6" font-size="9" text-anchor="start" font-weight="normal" font-style="normal" fill="#111" stroke="#111" stroke-width="0.22" textLength="4.6" lengthAdjust="spacingAndGlyphs" >2</text>
<text x="261" y="651.7" font-size="11.3" text-anchor="start" font-weight="normal" font-style="normal" fill="#111" stroke="#111" stroke-width="0.22" textLength="32.8" lengthAdjust="spacingAndGlyphs" >= 0.24</text>
<rect x="0.9" y="0.9" width="518.2" height="872.2" fill="none" stroke="#000" stroke-width="1.9"/>
</g>
</svg>
</body></html>
